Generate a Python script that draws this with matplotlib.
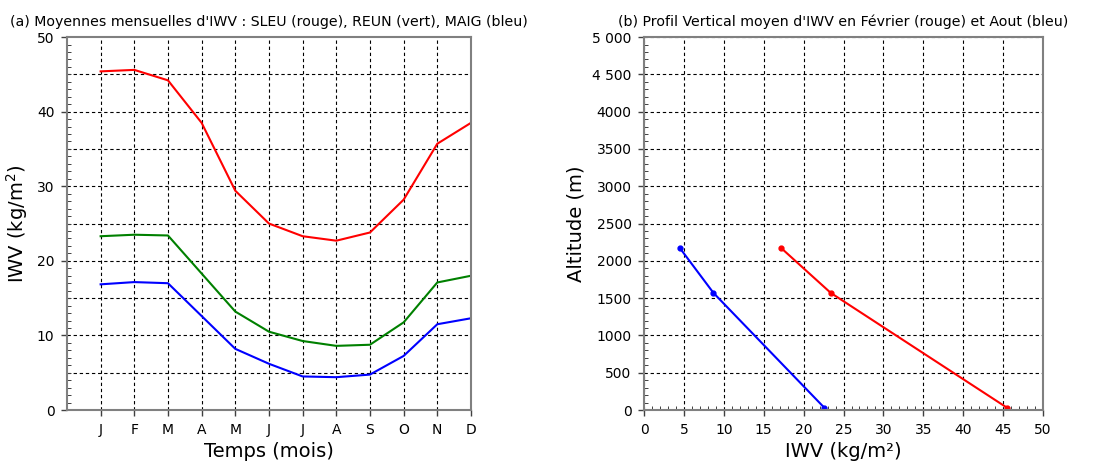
import matplotlib
matplotlib.use("Agg")
import matplotlib.pyplot as plt
from matplotlib.ticker import MultipleLocator, FixedLocator

months = ["J", "F", "M", "A", "M", "J", "J", "A", "S", "O", "N", "D"]
month_pos = list(range(1, 13))
iwv_sleu = [45.4, 45.6, 44.2, 38.5, 29.4, 25.0, 23.3, 22.7, 23.8, 28.2, 35.7, 38.5]
iwv_reun = [23.3, 23.5, 23.4, 18.3, 13.2, 10.5, 9.25, 8.6, 8.75, 11.75, 17.1, 18.0]
iwv_maig = [16.85, 17.15, 17.0, 12.6, 8.2, 6.2, 4.5, 4.4, 4.75, 7.25, 11.5, 12.3]

alt_profile = [2170, 1570, 30]
iwv_feb = [17.2, 23.4, 45.5]
iwv_aug = [4.5, 8.7, 22.6]

alt_ticks = [0, 500, 1000, 1500, 2000, 2500, 3000, 3500, 4000, 4500, 5000]
alt_labels = ["0", "500", "1000", "1500", "2000", "2500", "3000", "3500", "4000", "4 500", "5 000"]

fig = plt.figure(figsize=(10.94, 4.61), dpi=100)
ax1 = fig.add_axes([0.0612, 0.1106, 0.3693, 0.809])
ax2 = fig.add_axes([0.5887, 0.1106, 0.3647, 0.809])

spine_col = "#808080"
dash = (0, (3, 2.5))

def style(ax):
    for s in ax.spines.values():
        s.set_color(spine_col)
        s.set_linewidth(1.5)
    ax.tick_params(which="major", direction="out", length=4, width=1, color="#404040",
                   labelsize=10, pad=5, top=False, right=False)
    ax.tick_params(which="minor", direction="in", length=3, width=0.7, color="#404040",
                   top=False, right=False)
    ax.grid(True, which="major", color="black", linestyle=dash, linewidth=0.8)
    ax.set_axisbelow(True)

# Left panel
ax1.plot(month_pos, iwv_sleu, color="red", lw=1.5)
ax1.plot(month_pos, iwv_reun, color="green", lw=1.5)
ax1.plot(month_pos, iwv_maig, color="blue", lw=1.5)
ax1.set_xlim(0, 12)
ax1.set_ylim(0, 50)
ax1.set_xticks(month_pos)
ax1.set_xticklabels(months)
ax1.yaxis.set_major_locator(FixedLocator([0, 10, 20, 30, 40, 50]))
ax1.yaxis.set_minor_locator(MultipleLocator(1))
style(ax1)
ax1.grid(False)
ax1.xaxis.grid(True, color="black", linestyle=dash, linewidth=0.8)
for v in [5, 10, 15, 20, 25, 30, 35, 40, 45]:
    ax1.axhline(v, color="black", linestyle=dash, linewidth=0.8, zorder=0)
ax1.set_xlabel("Temps (mois)", fontsize=14, labelpad=4)
ax1.set_ylabel("IWV (kg/m$^2$)", fontsize=14, labelpad=5)
ax1.set_title("(a) Moyennes mensuelles d'IWV : SLEU (rouge), REUN (vert), MAIG (bleu)",
              fontsize=10.2, pad=8)

# Right panel
ax2.plot(iwv_aug, alt_profile, color="blue", lw=1.5, marker="o", ms=3.5)
ax2.plot(iwv_feb, alt_profile, color="red", lw=1.5, marker="o", ms=3.5)
ax2.set_xlim(0, 50)
ax2.set_ylim(0, 5000)
ax2.xaxis.set_major_locator(MultipleLocator(5))
ax2.xaxis.set_minor_locator(MultipleLocator(1))
ax2.set_yticks(alt_ticks)
ax2.set_yticklabels(alt_labels)
ax2.yaxis.set_minor_locator(MultipleLocator(100))
style(ax2)
ax2.set_xlabel("IWV (kg/m²)", fontsize=14, labelpad=4)
ax2.set_ylabel("Altitude (m)", fontsize=14, labelpad=5)
ax2.set_title("(b) Profil Vertical moyen d'IWV en Février (rouge) et Aout (bleu)",
              fontsize=10.2, pad=8)

fig.savefig("out.png", dpi=100)
